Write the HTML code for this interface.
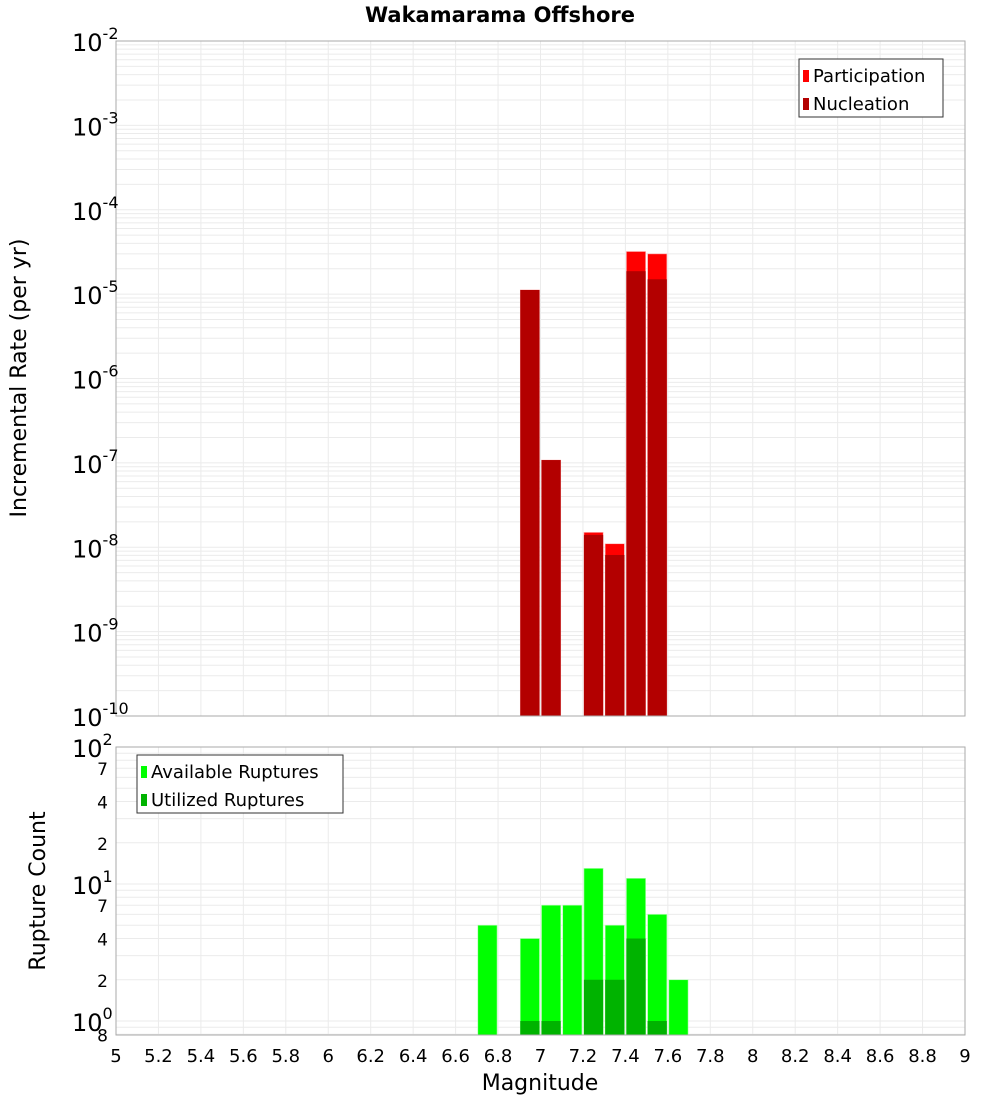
<!DOCTYPE html>
<html><head><meta charset="utf-8"><style>
body{margin:0;background:#fff;font-family:"Liberation Sans","DejaVu Sans",sans-serif}
svg text{font-family:"DejaVu Sans","Liberation Sans",sans-serif}
</style></head><body>
<svg id="chart" width="1000" height="1100" xmlns="http://www.w3.org/2000/svg">
<text x="500" y="22" text-anchor="middle" font-size="21" font-weight="bold">Wakamarama Offshore</text>
<g id="topg"></g><g id="botg"></g>
<text transform="translate(26,378) rotate(-90)" text-anchor="middle" font-size="22">Incremental Rate (per yr)</text>
<text transform="translate(45,891) rotate(-90)" text-anchor="middle" font-size="22">Rupture Count</text>
<text x="540" y="1090" text-anchor="middle" font-size="22">Magnitude</text>
</svg>
<script>
const mags=[6.75,6.95,7.05,7.15,7.25,7.35,7.45,7.55,7.65];
const participation=[null,1.12e-5,1.08e-7,null,1.5e-8,1.1e-8,3.2e-5,3.0e-5,null];
const nucleation=[null,1.12e-5,1.08e-7,null,1.4e-8,8.1e-9,1.87e-5,1.5e-5,null];
const available=[5,4,7,7,13,5,11,6,2];
const utilized=[0,1,1,0,2,2,4,1,0];
const xTicks=[5,5.2,5.4,5.6,5.8,6,6.2,6.4,6.6,6.8,7,7.2,7.4,7.6,7.8,8,8.2,8.4,8.6,8.8,9];

const NS="http://www.w3.org/2000/svg";
const L=116,R=965;
const X=m=>L+(m-5)/4*(R-L);
const T0=41,T1=716;
const YT=v=>T0+(-2-Math.log10(v))*(T1-T0)/8;
const B0=747,B1=1035,BD=137;
const YB=v=>B0+(2-Math.log10(v))*BD;
function el(p,tag,a){const e=document.createElementNS(NS,tag);for(const k in a)e.setAttribute(k,a[k]);p.appendChild(e);return e;}
const topG=document.getElementById('topg'),botG=document.getElementById('botg');
for(let d=-10;d<-2;d++)for(let k=1;k<10;k++){const y=YT(k*Math.pow(10,d));const g=el(topG,'line',{x1:L,x2:R,y1:y,y2:y,stroke:'#ebebeb'});

}
for(const t of xTicks){const g=el(topG,'line',{x1:X(t),x2:X(t),y1:T0,y2:T1,stroke:'#ebebeb'});


const g2=el(botG,'line',{x1:X(t),x2:X(t),y1:B0,y2:B1,stroke:'#ebebeb'});

}
for(let d=-1;d<2;d++)for(let k=1;k<10;k++){const y=YB(k*Math.pow(10,d));if(y>B1||y<B0)continue;const g=el(botG,'line',{x1:L,x2:R,y1:y,y2:y,stroke:'#ebebeb'});

}
const bw=(X(5.1)-X(5))-2;
mags.forEach((m,i)=>{
 if(participation[i]){const r=el(topG,'rect',{x:X(m)-bw/2,y:YT(participation[i]),width:bw,height:T1-YT(participation[i]),fill:'#ff0000',stroke:'#ffb0b0','stroke-width':0.6});
 
 }
 if(nucleation[i]){const r=el(topG,'rect',{x:X(m)-bw/2,y:YT(nucleation[i]),width:bw,height:T1-YT(nucleation[i]),fill:'#b30000'});
 
 }
 const a=el(botG,'rect',{x:X(m)-bw/2,y:YB(available[i]),width:bw,height:B1-YB(available[i]),fill:'#00ff00',stroke:'#b0ffb0','stroke-width':0.6});
 
 
 if(utilized[i]>0){const u=el(botG,'rect',{x:X(m)-bw/2,y:YB(utilized[i]),width:bw,height:B1-YB(utilized[i]),fill:'#00b300'});
 
 }
});
const f1=el(topG,'rect',{x:L,y:T0,width:R-L,height:T1-T0,fill:'none',stroke:'#aaa'});


const f2=el(botG,'rect',{x:L,y:B0,width:R-L,height:B1-B0,fill:'none',stroke:'#aaa'});


for(let d=-10;d<=-2;d++){const y=YT(Math.pow(10,d));const t=el(topG,'text',{x:72,y:y+10,'font-size':24});


t.textContent='10';const s=el(t,'tspan',{dy:-12,'font-size':16});s.textContent=String(d);}
[[100,'2'],[10,'1'],[1,'0']].forEach(([v,e])=>{const t=el(botG,'text',{x:72,y:YB(v)+10,'font-size':24});


t.textContent='10';const s=el(t,'tspan',{dy:-12,'font-size':16});s.textContent=e;});
[70,40,20,7,4,2,0.8].forEach(v=>{const t=el(botG,'text',{x:108,y:YB(v)+7,'font-size':17,'text-anchor':'end'});


t.textContent=String(v<1?8:(v>=10?v/10:v));});
for(const t of xTicks){const e=el(botG,'text',{x:X(t),y:1062,'font-size':18,'text-anchor':'middle'});


e.textContent=String(+t.toFixed(1));}
function legend(p,x,y,w,items,name){const g=el(p,'g',{});


el(g,'rect',{x:x,y:y,width:w,height:58,fill:'#fff',stroke:'#333'});
items.forEach(([c,l],i)=>{el(g,'rect',{x:x+4,y:y+11+i*28,width:6,height:12,fill:c});const t=el(g,'text',{x:x+14,y:y+23+i*28,'font-size':18});t.textContent=l;});}
legend(topG,799,59,144,[['#ff0000','Participation'],['#b30000','Nucleation']],'legend-top');
legend(botG,137,755,206,[['#00ff00','Available Ruptures'],['#00b300','Utilized Ruptures']],'legend-bottom');
</script>
</body></html>
